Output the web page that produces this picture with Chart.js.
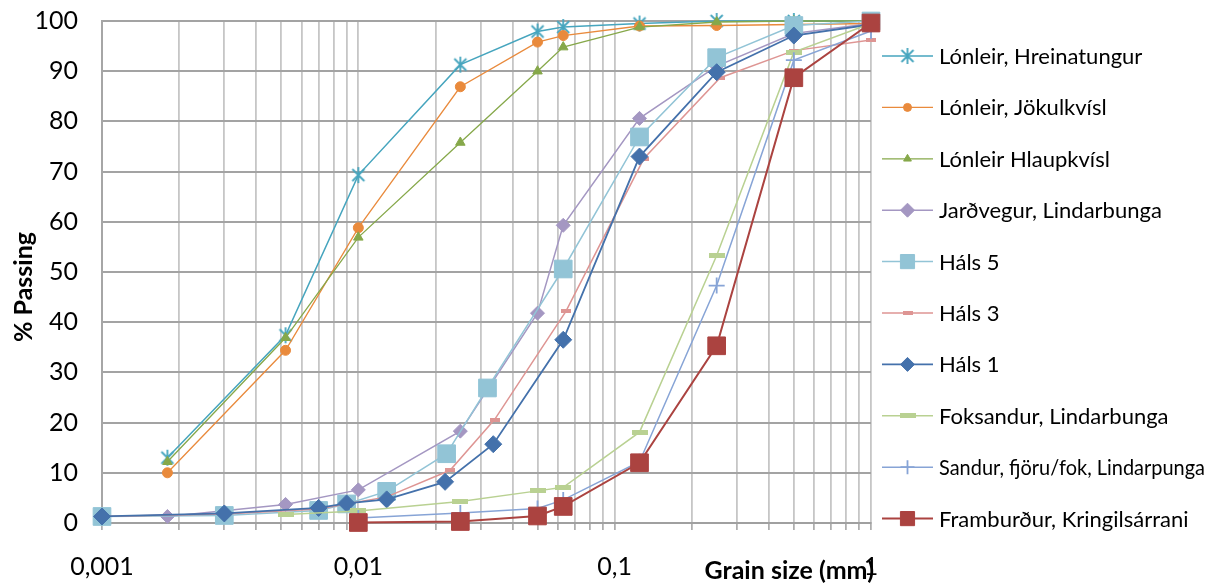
<!DOCTYPE html>
<html>
<head>
<meta charset="utf-8">
<script src="https://cdn.jsdelivr.net/npm/chart.js@4/dist/chart.umd.min.js"></script>
<style>
  html, body { margin: 0; padding: 0; background: #fff; }
  #wrap { width: 1215px; height: 584px; position: relative; }
</style>
</head>
<body>
<div id="wrap"><canvas id="gradChart"></canvas></div>
<script>
// grain sizes (mm) and % passing
const sizesLonleir = [0.0018, 0.0052, 0.01, 0.025, 0.05, 0.063, 0.125, 0.25, 0.5, 1];
const passHreinatungur = [13.0, 37.4, 69.3, 91.3, 97.9, 98.8, 99.5, 100, 100, 100];
const passJokulkvisl = [10.0, 34.4, 58.8, 86.9, 95.8, 97.1, 99.0, 99.1, 99.3, 99.5];
const passHlaupkvisl = [12.2, 36.9, 56.9, 75.8, 90.0, 94.8, 98.8, 99.8, 100, 100];
const passJardvegur = [1.3, 3.7, 6.6, 18.3, 41.8, 59.3, 80.6, 91.0, 97.5, 99.5];

const sizesHals5 = [0.001, 0.003, 0.007, 0.009, 0.0129, 0.0221, 0.0319, 0.063, 0.125, 0.25, 0.5, 1];
const passHals5 = [1.3, 1.5, 2.5, 3.8, 6.3, 13.8, 26.9, 50.6, 76.9, 92.7, 99.1, 100];
const sizesHals3 = [0.001, 0.003, 0.007, 0.009, 0.0129, 0.0228, 0.034, 0.0646, 0.13, 0.258, 0.5, 1];
const passHals3 = [1.3, 1.8, 2.8, 3.8, 5.2, 10.5, 20.6, 42.2, 72.6, 88.7, 94.1, 96.2];
const sizesHals1 = [0.001, 0.003, 0.007, 0.009, 0.0129, 0.0218, 0.0336, 0.063, 0.125, 0.25, 0.5, 1];
const passHals1 = [1.3, 1.9, 3.0, 3.9, 4.7, 8.2, 15.7, 36.5, 73.0, 89.8, 97.1, 99.3];

const sizesFoksandur = [0.0052, 0.01, 0.025, 0.05, 0.063, 0.125, 0.25, 0.5, 1];
const passFoksandur = [1.7, 2.4, 4.3, 6.4, 7.1, 18.1, 53.3, 93.8, 99.5];
const sizesSandur = [0.01, 0.025, 0.05, 0.063, 0.125, 0.25, 0.5, 1];
const passSandur = [1.0, 2.0, 2.9, 4.6, 12.2, 47.3, 92.2, 98.0];
const passFramburdur = [0.1, 0.3, 1.4, 3.3, 12.0, 35.3, 88.7, 99.6];

const seriesNames = [
  'Lónleir, Hreinatungur', 'Lónleir, Jökulkvísl', 'Lónleir Hlaupkvísl',
  'Jarðvegur, Lindarbunga', 'Háls 5', 'Háls 3', 'Háls 1',
  'Foksandur, Lindarbunga', 'Sandur, fjöru/fok, Lindarpunga', 'Framburður, Kringilsárrani'
];
const decades = [0.001, 0.01, 0.1];
const yTicks = [0, 10, 20, 30, 40, 50, 60, 70, 80, 90, 100];

const FONT = 'Lato, "Liberation Sans", sans-serif';

// small canvas markers for the shapes chart.js has no exact match for
function makeMarker(w, h, draw) {
  const c = document.createElement('canvas');
  c.width = w; c.height = h;
  draw(c.getContext('2d'), w, h);
  return c;
}
const starMark = makeMarker(18, 18, (g) => {
  g.strokeStyle = '#46a5be';
  g.lineWidth = 1.8;
  g.beginPath();
  g.moveTo(3, 3); g.lineTo(15, 15);
  g.moveTo(15, 3); g.lineTo(3, 15);
  g.moveTo(9, 1); g.lineTo(9, 17);
  g.stroke();
});
const pinkDash = makeMarker(10, 4, (g, w, h) => { g.fillStyle = '#de9593'; g.fillRect(0, 0, w, h); });
const greenDash = makeMarker(16, 5, (g, w, h) => { g.fillStyle = '#b9d192'; g.fillRect(0, 0, w, h); });

const pts = (xs, ys) => xs.map((x, i) => ({ x: x, y: ys[i] }));

const datasets = [
  { data: pts(sizesLonleir, passHreinatungur), borderColor: '#46a5be', pointStyle: starMark, pointRadius: 8, borderWidth: 1.5 },
  { data: pts(sizesLonleir, passJokulkvisl), borderColor: '#e98a3c', backgroundColor: '#e98a3c', pointStyle: 'circle', pointRadius: 5, borderWidth: 1.3 },
  { data: pts(sizesLonleir, passHlaupkvisl), borderColor: '#86a84a', backgroundColor: '#86a84a', pointStyle: 'triangle', pointRadius: 5.5, borderWidth: 1.3 },
  { data: pts(sizesLonleir, passJardvegur), borderColor: '#a497c2', backgroundColor: '#a497c2', pointStyle: 'rectRot', pointRadius: 7, borderWidth: 1.5 },
  { data: pts(sizesHals5, passHals5), borderColor: '#92c4d6', backgroundColor: '#92c4d6', pointStyle: 'rect', pointRadius: 12.5, borderWidth: 1.5 },
  { data: pts(sizesHals3, passHals3), borderColor: '#de9593', pointStyle: pinkDash, pointRadius: 5, borderWidth: 1.5 },
  { data: pts(sizesHals1, passHals1), borderColor: '#4471ab', backgroundColor: '#4471ab', pointStyle: 'rectRot', pointRadius: 8.5, borderWidth: 1.8 },
  { data: pts(sizesFoksandur, passFoksandur), borderColor: '#b9d192', pointStyle: greenDash, pointRadius: 8, borderWidth: 1.5 },
  { data: pts(sizesSandur, passSandur), borderColor: '#87a4d6', backgroundColor: '#87a4d6', pointStyle: 'cross', pointRadius: 8, pointBorderWidth: 1.8, borderWidth: 1.5 },
  { data: pts(sizesSandur, passFramburdur), borderColor: '#ab4340', backgroundColor: '#ab4340', pointStyle: 'rect', pointRadius: 12.5, borderWidth: 2 }
].map((d, i) => Object.assign({
  label: seriesNames[i],
  pointBackgroundColor: d.backgroundColor || d.borderColor,
  pointBorderColor: d.borderColor,
  pointBorderWidth: d.pointBorderWidth || 1,
  tension: 0,
  fill: false,
  clip: false,
  order: 10 - i
}, d));

// legend drawn on the canvas: line sample with marker, like the spreadsheet legend
const sideLegend = {
  id: 'sideLegend',
  afterDraw(chart) {
    const ctx = chart.ctx;
    ctx.save();
    datasets.forEach((ds, i) => {
      const y = 56 + i * 51.4;
      ctx.strokeStyle = ds.borderColor;
      ctx.lineWidth = ds.borderWidth;
      ctx.beginPath();
      ctx.moveTo(882, y);
      ctx.lineTo(933, y);
      ctx.stroke();
      ctx.fillStyle = ds.pointBackgroundColor;
      ctx.strokeStyle = ds.pointBorderColor;
      ctx.lineWidth = ds.pointBorderWidth;
      const r = ds.pointStyle === 'rect' ? 10 : (ds.pointStyle === 'rectRot' ? 7 : ds.pointRadius - 1);
      Chart.helpers.drawPoint(ctx, { pointStyle: ds.pointStyle, radius: r, rotation: 0, borderWidth: ds.pointBorderWidth }, 907.5, y);
      ctx.fillStyle = '#000';
      ctx.font = '22px ' + FONT;
      ctx.textAlign = 'left';
      ctx.textBaseline = 'middle';
      ctx.fillText(ds.label, 939, y + 1, 266);
    });

    // axis titles
    ctx.font = 'bold 25px ' + FONT;
    ctx.fillStyle = '#000';
    ctx.textAlign = 'right';
    ctx.textBaseline = 'alphabetic';
    ctx.fillText('Grain size (mm)', 874, 579);
    ctx.translate(24, 287);
    ctx.rotate(-Math.PI / 2);
    ctx.textAlign = 'center';
    ctx.textBaseline = 'middle';
    ctx.fillText('% Passing', 0, 0);
    ctx.restore();
  }
};

const ctx = document.getElementById('gradChart').getContext('2d');
new Chart(ctx, {
  type: 'line',
  data: { datasets: datasets },
  options: {
    responsive: true,
    maintainAspectRatio: false,
    animation: false,
    layout: { autoPadding: false, padding: { top: 21, right: 344, left: 0, bottom: 0 } },
    plugins: { legend: { display: false }, tooltip: { enabled: false } },
    scales: {
      x: {
        type: 'logarithmic',
        min: 0.001,
        max: 1,
        afterFit: (scale) => {
          scale.height = 61;
          scale.paddingLeft = 0;
          scale.paddingRight = 0;
        },
        afterBuildTicks: (scale) => {
          const t = [];
          decades.forEach((d) => {
            for (let k = 1; k <= 9; k++) t.push({ value: +(k * d).toPrecision(3) });
          });
          t.push({ value: 1 });
          scale.ticks = t;
        },
        ticks: {
          autoSkip: false,
          maxRotation: 0,
          padding: 22,
          color: '#000',
          font: { family: FONT, size: 25 },
          callback: (v) => {
            const lg = Math.log10(v);
            if (Math.abs(lg - Math.round(lg)) > 1e-6) return '';
            return String(v).replace('.', ',');
          }
        },
        grid: { color: '#c6c6c6', lineWidth: 1.8, tickLength: 7, tickColor: '#a6a6a6', tickWidth: 1.6 },
        border: { color: '#a0a0a0', width: 2 }
      },
      y: {
        min: 0,
        max: 100,
        afterFit: (scale) => {
          scale.width = 102;
          scale.paddingTop = 0;
          scale.paddingBottom = 0;
        },
        afterBuildTicks: (scale) => { scale.ticks = yTicks.map((v) => ({ value: v })); },
        ticks: {
          padding: 24,
          color: '#000',
          font: { family: FONT, size: 25 }
        },
        grid: { color: '#a3a3a3', lineWidth: 2, drawTicks: false },
        border: { color: '#a6a6a6', width: 2 }
      }
    }
  },
  plugins: [sideLegend]
});
</script>
</body>
</html>
